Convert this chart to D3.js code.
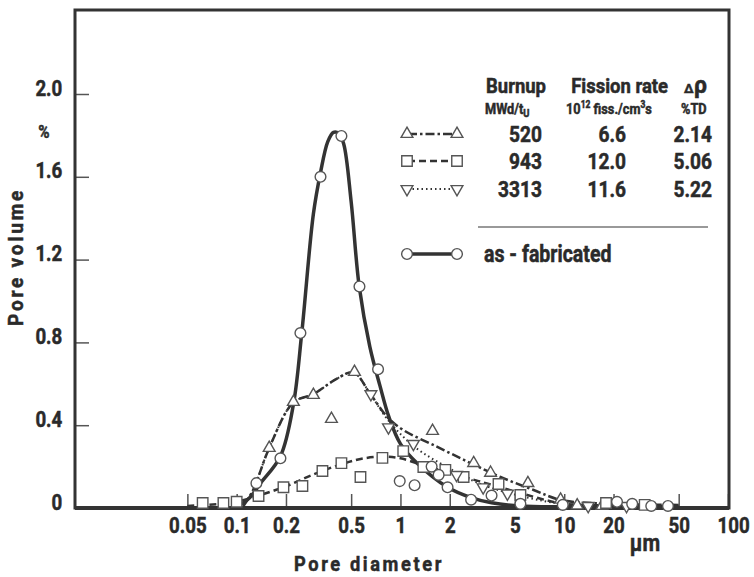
<!DOCTYPE html>
<html>
<head>
<meta charset="utf-8">
<script src="https://cdn.jsdelivr.net/npm/d3@7"></script>
<style>
  body { margin: 0; background: #fff; }
  svg text { font-family: Roboto, "DejaVu Sans", sans-serif; font-weight: 700; fill: #2a2a2a; stroke: #2a2a2a; stroke-width: 0.5px; }
</style>
</head>
<body>
<div id="chart"></div>
<script>
// tick values and labels
var xTickValues = [0.05, 0.1, 0.2, 0.5, 1, 2, 5, 10, 20, 50, 100]
var xTickLabels = ['0.05', '0.1', '0.2', '0.5', '1', '2', '5', '10', '20', '50', '100']
var yTickValues = [0, 0.4, 0.8, 1.2, 1.6, 2.0]
var yTickLabels = ['0', '0.4', '0.8', '1.2', '1.6', '2.0']

// as-fabricated: measured points [diameter um, pore volume %] and fitted curve
var asFabPoints = [[0.132, 0.12], [0.185, 0.24], [0.245, 0.845], [0.325, 1.6], [0.436, 1.797],
  [0.562, 1.07], [0.73, 0.67], [0.99, 0.13], [1.22, 0.11], [1.55, 0.2], [1.71, 0.16], [1.94, 0.1],
  [2.7, 0.04], [3.6, 0.06], [5.4, 0.02], [9.8, 0.015], [21, 0.03], [26, 0.02], [34, 0.01], [43, 0.01]]
var asFabCurve = [[0.1, 0.005], [0.12, 0.05], [0.14, 0.12], [0.185, 0.25], [0.222, 0.5], [0.25, 0.85],
  [0.294, 1.42], [0.325, 1.62], [0.36, 1.77], [0.39, 1.815], [0.42, 1.81], [0.45, 1.76], [0.5, 1.48],
  [0.56, 1.07], [0.65, 0.78], [0.75, 0.59], [0.85, 0.44], [1.0, 0.31], [1.27, 0.215], [1.94, 0.1],
  [2.7, 0.05], [3.6, 0.025], [5.4, 0.01], [10, 0.006], [50, 0.005]]

// burnup 520 MWd/tU
var b520Points = [[0.158, 0.29], [0.222, 0.512], [0.294, 0.546], [0.379, 0.43], [0.524, 0.657],
  [1.57, 0.372], [2.8, 0.217], [3.55, 0.17], [6, 0.12], [9.5, 0.04], [12, 0.012], [17, 0.01]]
var b520Curve = [[0.11, 0.01], [0.126, 0.087], [0.158, 0.29], [0.222, 0.51], [0.294, 0.55], [0.41, 0.625],
  [0.516, 0.655], [0.656, 0.55], [0.83, 0.44], [1.04, 0.377], [1.68, 0.295], [2.68, 0.217],
  [4.08, 0.15], [6.5, 0.087], [9.5, 0.039], [16.7, 0.022], [50, 0.015]]

// burnup 943 MWd/tU
var b943Points = [[0.062, 0.024], [0.083, 0.024], [0.1, 0.03], [0.136, 0.058], [0.193, 0.1], [0.252, 0.106],
  [0.334, 0.179], [0.436, 0.217], [0.57, 0.15], [0.776, 0.242], [1.04, 0.275], [1.38, 0.198],
  [1.88, 0.184], [2.43, 0.15], [3.97, 0.116], [5.4, 0.063], [18, 0.024], [31, 0.015]]
var b943Curve = [[0.05, 0.01], [0.08, 0.02], [0.1, 0.03], [0.13, 0.055], [0.2, 0.105], [0.3, 0.165],
  [0.45, 0.215], [0.6, 0.24], [0.8, 0.248], [1.0, 0.24], [1.4, 0.205], [2, 0.17], [3, 0.13],
  [5, 0.08], [8, 0.035], [10, 0.02], [20, 0.012], [50, 0.01]]

// burnup 3313 MWd/tU (runs along the 520 curve, then splits off in the tail)
var b3313Points = [[0.66, 0.55], [0.845, 0.39], [1.2, 0.31], [2.2, 0.16], [3.2, 0.1], [4.5, 0.07], [14, 0.01], [24, 0.01]]
var b3313Curve = [[0.11, 0.01], [0.126, 0.087], [0.158, 0.29], [0.222, 0.51], [0.294, 0.55], [0.41, 0.625],
  [0.516, 0.655], [0.656, 0.55], [0.83, 0.43], [1.2, 0.3], [2, 0.19], [3, 0.12], [5, 0.065], [10, 0.02], [50, 0.01]]

// legend table
var legendBurnup = ['520', '943', '3313']
var legendFission = ['6.6', '12.0', '11.6']
var legendDrho = ['2.14', '5.06', '5.22']

var width = 754
var height = 577
var frame = { left: 75, right: 729, top: 10, bottom: 508 }

var svg = d3
  .select('#chart')
  .append('svg')
  .attr('width', width)
  .attr('height', height)

var x = d3.scaleLog().domain([0.0103, 100]).range([75, 728])
var y = d3.scaleLinear().domain([0, 2]).range([508, 94])

// narrow bold text, squeezed horizontally
function label(g, px, py, str, size, anchor, sx) {
  return g
    .append('text')
    .attr('transform', 'translate(' + px + ',' + py + ') scale(' + (sx || 0.85) + ',1)')
    .attr('text-anchor', anchor || 'middle')
    .style('font-size', size + 'px')
    .text(str)
}

// axes
var xAxis = d3
  .axisBottom(x)
  .tickValues(xTickValues)
  .tickFormat((d, i) => xTickLabels[i])
  .tickSize(-14)
  .tickPadding(0)

var gx = svg
  .append('g')
  .attr('transform', 'translate(0,' + frame.bottom + ')')
  .call(xAxis)
gx.select('.domain').remove()
gx.selectAll('.tick line').attr('stroke', '#555').attr('stroke-width', 1.5)
gx.selectAll('.tick text')
  .attr('y', 25)
  .attr('dy', 0)
  .attr('dx', (d, i) => (i === xTickValues.length - 1 ? 6 : 0))
  .attr('transform', 'scale(0.85,1)')
  .style('font-size', '22px')
  .attr('fill', '#2a2a2a')

var yAxis = d3
  .axisLeft(y)
  .tickValues(yTickValues)
  .tickFormat((d, i) => yTickLabels[i])
  .tickSize(-14)
  .tickPadding(15)

var gy = svg
  .append('g')
  .attr('transform', 'translate(' + frame.left + ',0)')
  .call(yAxis)
gy.select('.domain').remove()
gy.selectAll('.tick line').attr('stroke', '#555').attr('stroke-width', 1.5)
gy.selectAll('.tick text')
  .attr('dy', '0.05em')
  .attr('transform', 'scale(0.85,1)')
  .style('font-size', '22px')
  .attr('fill', '#2a2a2a')

// frame
svg
  .append('rect')
  .attr('x', frame.left)
  .attr('y', frame.top)
  .attr('width', frame.right - frame.left)
  .attr('height', frame.bottom - frame.top)
  .attr('fill', 'none')
  .attr('stroke', '#333')
  .attr('stroke-width', 3)
svg
  .append('line')
  .attr('x1', frame.left)
  .attr('x2', frame.right)
  .attr('y1', frame.bottom)
  .attr('y2', frame.bottom)
  .attr('stroke', '#333')
  .attr('stroke-width', 4)

// axis titles
svg
  .append('text')
  .attr('transform', 'translate(23,257) rotate(-90)')
  .attr('text-anchor', 'middle')
  .attr('textLength', 138)
  .attr('lengthAdjust', 'spacingAndGlyphs')
  .style('font-size', '21px')
  .style('letter-spacing', '3px')
  .text('Pore volume')
label(svg, 44, 138, '%', 18)
svg
  .append('text')
  .attr('x', 369)
  .attr('y', 571)
  .attr('text-anchor', 'middle')
  .attr('textLength', 150)
  .attr('lengthAdjust', 'spacingAndGlyphs')
  .style('font-size', '21px')
  .style('letter-spacing', '3px')
  .text('Pore diameter')
label(svg, 645, 551, 'µm', 24)

// series styles
var series = [
  { name: '520', points: b520Points, curve: b520Curve, dash: '9,3,2.5,3', width: 2.5, marker: 'up' },
  { name: '943', points: b943Points, curve: b943Curve, dash: '7,4', width: 2.5, marker: 'square' },
  { name: '3313', points: b3313Points, curve: b3313Curve, dash: '1.5,3', width: 2, marker: 'down' },
  { name: 'as-fabricated', points: asFabPoints, curve: asFabCurve, dash: null, width: 3.5, marker: 'circle' }
]

var line = d3
  .line()
  .x(d => x(d[0]))
  .y(d => y(d[1]))
  .curve(d3.curveCatmullRom.alpha(0.5))

var symbolFor = {
  up: d3.symbol().type(d3.symbolTriangle).size(60),
  down: d3.symbol().type(d3.symbolTriangle).size(60),
  square: d3.symbol().type(d3.symbolSquare).size(110),
  circle: d3.symbol().type(d3.symbolCircle).size(90)
}

function drawMarker(g, type, px, py) {
  g.append('path')
    .attr('d', symbolFor[type]())
    .attr('transform', 'translate(' + px + ',' + py + ')' + (type === 'down' ? ' rotate(180)' : ''))
    .attr('fill', '#fff')
    .attr('stroke', '#555')
    .attr('stroke-width', 1.4)
}

series.forEach(function(s) {
  svg
    .append('path')
    .datum(s.curve)
    .attr('d', line)
    .attr('fill', 'none')
    .attr('stroke', '#333')
    .attr('stroke-width', s.width)
    .attr('stroke-dasharray', s.dash)
})

series.forEach(function(s) {
  var g = svg.append('g')
  s.points.forEach(function(d) {
    drawMarker(g, s.marker, x(d[0]), y(d[1]))
  })
})

// legend
var legend = svg.append('g')
label(legend, 546, 93, 'Burnup', 21, 'end', 0.88)
label(legend, 668, 93, 'Fission rate', 21, 'end', 0.88)
legend
  .append('text')
  .attr('transform', 'translate(684,93)')
  .style('font-size', '13px')
  .text('Δ')
legend
  .append('text')
  .attr('transform', 'translate(694,93)')
  .style('font-size', '23px')
  .text('ρ')

var sub1 = label(legend, 485, 114, 'MWd/t', 15, 'start', 0.85)
sub1.append('tspan').attr('dy', 3).style('font-size', '11px').text('U')
var sub2 = label(legend, 566, 114, '10', 15, 'start', 0.85)
sub2.append('tspan').attr('dy', -6).style('font-size', '10px').text('12')
sub2.append('tspan').attr('dy', 6).text(' fiss./cm')
sub2.append('tspan').attr('dy', -6).style('font-size', '10px').text('3')
sub2.append('tspan').attr('dy', 6).text('s')
label(legend, 681, 114, '%TD', 15, 'start', 0.85)

var rowY = [134, 161, 189]
series.slice(0, 3).forEach(function(s, i) {
  var ry = rowY[i]
  legend
    .append('line')
    .attr('x1', 408)
    .attr('x2', 456)
    .attr('y1', ry)
    .attr('y2', ry)
    .attr('stroke', '#333')
    .attr('stroke-width', s.width)
    .attr('stroke-dasharray', s.dash)
  drawMarker(legend, s.marker, 407, ry)
  drawMarker(legend, s.marker, 457, ry)
  label(legend, 542, ry + 8, legendBurnup[i], 22, 'end', 0.87)
  label(legend, 626, ry + 8, legendFission[i], 22, 'end', 0.87)
  label(legend, 712, ry + 8, legendDrho[i], 22, 'end', 0.87)
})

legend
  .append('line')
  .attr('x1', 478)
  .attr('x2', 708)
  .attr('y1', 227)
  .attr('y2', 227)
  .attr('stroke', '#777')
  .attr('stroke-width', 1.5)

legend
  .append('line')
  .attr('x1', 408)
  .attr('x2', 456)
  .attr('y1', 254)
  .attr('y2', 254)
  .attr('stroke', '#333')
  .attr('stroke-width', 3.5)
drawMarker(legend, 'circle', 407, 254)
drawMarker(legend, 'circle', 457, 254)
label(legend, 484, 262, 'as - fabricated', 23, 'start', 0.85)
</script>
</body>
</html>
